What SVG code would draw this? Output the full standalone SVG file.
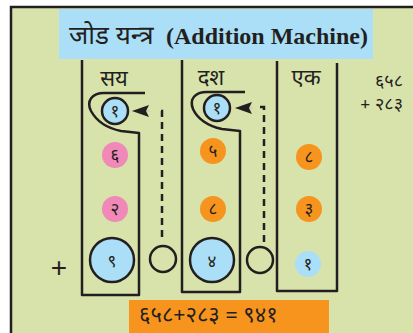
<svg xmlns="http://www.w3.org/2000/svg" width="413" height="333" viewBox="0 0 413 333">
<defs>
<style>
.ln{fill:none;stroke:#231f20;stroke-width:2.5;stroke-linejoin:round}
.dash{fill:none;stroke:#231f20;stroke-width:2.5;stroke-dasharray:7,5}
.dv{font-family:"Noto Sans Devanagari","Noto Serif Devanagari","Lohit Devanagari","Liberation Serif",serif;fill:#231f20}
.sm{font-size:17px;text-anchor:middle}
.hd{font-size:22px;text-anchor:middle}
.blue{fill:#abdff7}
.pink{fill:#f088b8}
.orng{fill:#f7941d}
.big{stroke:#231f20;stroke-width:2.5}
</style>
<marker id="ah" viewBox="0 0 17 12" refX="17" refY="6" markerWidth="17" markerHeight="12" orient="auto" markerUnits="userSpaceOnUse"><path d="M0,0 L17,6 L0,12 L3,6 z" fill="#231f20"/></marker>
</defs>
<rect x="0" y="0" width="413" height="333" fill="#ffffff"/>
<rect x="11" y="7" width="412" height="340" fill="#d8e2ab" stroke="#231f20" stroke-width="2.5"/>
<g id="title">
<rect x="59" y="9" width="314" height="50" fill="#abdff7"/>
<text x="69" y="44" class="dv" font-size="26">जोड यन्त्र</text>
<text x="166" y="44" font-family="Liberation Serif" font-weight="bold" font-size="24" fill="#231f20">(Addition Machine)</text>
</g>
<g id="col-hundreds">
<path class="ln" d="M82,60 L82,295 L139,295 L139,133 L121,131 C106,128 96,120 91,111 C86,101 92,93 104,93 L145,93"/>
<text x="114" y="86" class="dv hd">सय</text>
<circle cx="115" cy="111" r="13" class="blue" stroke="#231f20" stroke-width="2.5"/>
<text x="115" y="117" class="dv sm">१</text>
<circle cx="115" cy="155" r="13" class="pink"/>
<text x="115" y="161" class="dv sm">६</text>
<circle cx="115" cy="209" r="13" class="pink"/>
<text x="115" y="215" class="dv sm">२</text>
<circle cx="112" cy="260" r="22" class="blue big"/>
<text x="112" y="267" class="dv sm" font-size="19">९</text>
</g>
<g id="col-tens">
<path class="ln" d="M182,60 L182,292 L240,292 L240,131 L222,129 C207,126 197,118 193,109 C189,99 195,92 207,92 L245,92"/>
<text x="211" y="85" class="dv hd">दश</text>
<circle cx="217" cy="108" r="13" class="blue" stroke="#231f20" stroke-width="2.5"/>
<text x="217" y="114" class="dv sm">१</text>
<circle cx="213" cy="151" r="13" class="orng"/>
<text x="213" y="157" class="dv sm">५</text>
<circle cx="213" cy="209" r="13" class="orng"/>
<text x="213" y="215" class="dv sm">८</text>
<circle cx="212" cy="260" r="22" class="blue big"/>
<text x="212" y="267" class="dv sm" font-size="19">४</text>
</g>
<g id="col-ones">
<path class="ln" d="M277,61 L277,291 L337,291 L337,63"/>
<text x="306" y="85" class="dv hd">एक</text>
<circle cx="309" cy="157" r="13" class="orng"/>
<text x="309" y="163" class="dv sm">८</text>
<circle cx="309" cy="209" r="13" class="orng"/>
<text x="309" y="215" class="dv sm">३</text>
<circle cx="308" cy="264" r="13" class="blue"/>
<text x="308" y="270" class="dv sm">१</text>
</g>
<g id="carry1">
<circle cx="163" cy="259" r="13" fill="none" stroke="#231f20" stroke-width="2.5"/>
</g>
<g id="carry2">
<circle cx="260" cy="260" r="13" fill="none" stroke="#231f20" stroke-width="2.5"/>
</g>
<g id="connectors">
<path class="dash" d="M162,237 L162,111 L156,111"/>
<line x1="150" y1="111" x2="132" y2="111" stroke="#231f20" stroke-width="0.1" marker-end="url(#ah)"/>
<path class="dash" d="M264,242 L264,107 L259,107"/>
<line x1="253" y1="108" x2="235" y2="108" stroke="#231f20" stroke-width="0.1" marker-end="url(#ah)"/>
</g>
<g id="sum-label">
<text x="403" y="87" class="dv" font-size="18" text-anchor="end">६५८</text>
<text x="403" y="110" class="dv" font-size="18" text-anchor="end">+ २८३</text>
<text x="59" y="277" font-family="Liberation Sans" font-size="28" fill="#231f20" text-anchor="middle">+</text>
</g>
<g id="result">
<rect x="129" y="300" width="200" height="33" fill="#f7941d"/>
<text x="139" y="322" class="dv" font-size="22">६५८+२८३ = ९४१</text>
</g>
</svg>
